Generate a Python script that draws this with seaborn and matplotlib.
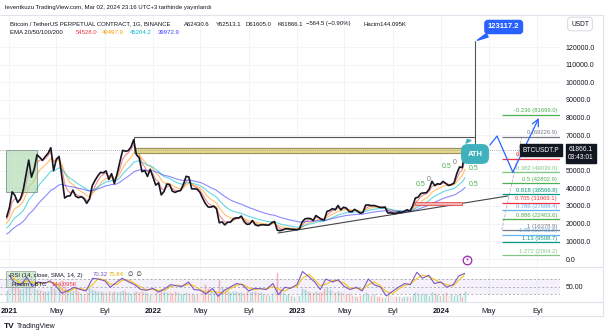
import numpy as np
import pandas as pd
import matplotlib
matplotlib.use("Agg")
import matplotlib.pyplot as plt
import matplotlib.dates as mdates
from matplotlib.patches import Rectangle
from matplotlib.lines import Line2D
import seaborn as sns

# ---------------- data ----------------
last_date = "2024-03-02"
price_close = [
    23800, 29000,
    38000, 36000, 32000, 34000, 39000, 47500, 56000, 46300, 51000, 59000, 57500, 55800, 58000,
    59800, 63000, 50000, 56500, 58000, 46500, 34500, 35600, 35800, 39000, 35500, 34700, 35300,
    34200, 31500, 34000, 41500, 44500, 47000, 49000, 48800, 49900, 45000, 48300, 42700, 48200,
    55000, 61500, 61000, 61300, 63300, 67500, 59000, 57300, 49400, 50100, 46700, 50800, 46300,
    41800, 43100, 36300, 38200, 42400, 42200, 38400, 37700, 38400, 38800, 42200, 46800, 46400,
    39700, 39700, 39500, 37700, 34300, 31300, 29400, 29400, 29900, 28400, 20500, 21000, 19300,
    20800, 20800, 22600, 23300, 23200, 24300, 21100, 19600, 19800, 21800, 19400, 18800, 19300,
    19400, 19200, 19200, 20600, 21200, 16300, 16000, 16500, 17100, 17100, 16800, 16800, 16550,
    17100, 20900, 22700, 23000, 22900, 21800, 24600, 23500, 22400, 22100, 26900, 27500, 28500,
    27900, 30300, 27800, 29300, 28800, 26900, 26750, 28100, 27100, 25900, 26300, 30500, 30600,
    30200, 30300, 29800, 29300, 29100, 29400, 26100, 26100, 25900, 25800, 26600, 26300, 27000,
    27900, 27100, 29900, 34500, 35000, 37100, 37400, 37500, 39500, 44000, 41600, 42600, 42300,
    43900, 42800, 41600, 42100, 43000, 48300, 52100, 51700, 61866.1,
]
volume_k = [
    450, 520,
    700, 650, 560, 500, 520, 600, 640, 700, 520, 480, 430, 420, 400,
    420, 600, 520, 480, 680, 820, 600, 480, 420, 430, 520, 420, 330,
    300, 380, 520, 480, 460, 420, 400, 380, 360, 420, 380, 400, 360,
    420, 460, 420, 380, 340, 380, 420, 360, 420, 380, 330, 300, 280,
    360, 320, 480, 420, 360, 380, 340, 420, 380, 300, 320, 360, 340,
    320, 300, 280, 300, 420, 680, 520, 400, 380, 380, 860, 560, 440,
    400, 380, 420, 400, 360, 380, 340, 420, 380, 400, 420, 380, 360,
    300, 280, 260, 320, 480, 1100, 520, 380, 300, 280, 260, 240, 220,
    260, 520, 480, 420, 380, 360, 420, 380, 360, 520, 560, 480, 420,
    360, 420, 380, 340, 300, 320, 260, 240, 240, 260, 280, 380, 300,
    260, 300, 240, 220, 200, 180, 300, 260, 240, 220, 240, 200, 220,
    240, 220, 300, 380, 320, 300, 320, 280, 260, 360, 320, 280, 260,
    280, 380, 260, 300, 260, 280, 320, 240, 420,
]
ema_periods = [20, 50, 100, 200]
ema_seed = [21000, 19000, 16500, 13500]
ema_header_values = ["54528.0", "49497.9", "45204.2", "39972.9"]

rsi_start = "2021-01-01"
rsi_values = [
    80, 60, 55, 75, 50, 62, 58, 65, 50, 32, 40, 48, 42, 38, 72, 70, 65, 48, 62, 72, 62, 55, 42, 40,
    45, 35, 45, 55, 52, 50, 62, 42, 40, 30, 45, 24, 40, 48, 58, 55, 38, 45, 44, 42, 58, 28, 48, 45,
    55, 90, 75, 62, 42, 70, 62, 68, 50, 42, 48, 38, 70, 55, 48, 25, 38, 48, 58, 55, 88, 72, 80, 58,
    62, 48, 55, 78, 85,
]

fib_labels = ["-0.236", "0", "0.236", "0.382", "0.5", "0.618", "0.705", "0.786", "0.886",
              "1", "1.05", "1.13", "1.272"]
fib_prices = [81699.0, 69226.9, 56754.8, 49039.0, 42802.9, 36566.8, 31969.1, 27688.4,
              22403.6, 16378.9, 13736.5, 9508.7, 2004.2]
fib_colors = ["#4caf50", "#787b86", "#f23645", "#81c784", "#4caf50", "#089981", "#f23645",
              "#64b5f6", "#4caf50", "#787b86", "#64b5f6", "#089981", "#81c784"]

green_box_dates = ["2020-12-25", "2021-03-12"]
green_box_vals = [37900, 61700]
ath_box_dates = ["2021-11-14", "2024-03-27"]
ath_box_vals = [62800, 69000]
yellow_band_vals = [60000, 62800]
target_value = 123117.2
trend_dates = ["2022-11-14", "2024-06-19"]
trend_vals = [14700, 35700]
pink_box_dates = ["2023-10-27", "2024-02-22"]
pink_box_vals = [30600, 32400]
zigzag_dates = ["2024-05-04", "2024-05-22", "2024-07-01", "2024-09-05"]
zigzag_vals = [64500, 69600, 49200, 79800]
fib_diag_dates = ["2024-06-03", "2024-07-24"]
fib_diag_vals = [16378.9, 69226.9]
mini_fib_text = ["0.5", "0", "0.5", "0", "0.5", "0.5"]
mini_fib_dates = ["2023-11-10", "2023-11-30", "2024-01-16", "2024-02-04", "2024-03-24", "2024-03-24"]
mini_fib_vals = [42450, 45200, 52100, 54600, 51500, 42450]

tick_dates = ["2021-01-01", "2021-05-01", "2021-09-01", "2022-01-01", "2022-05-01", "2022-09-01",
              "2023-01-01", "2023-05-01", "2023-09-01", "2024-01-01", "2024-05-01", "2024-09-01"]
tick_labels = ["2021", "May", "Eyl", "2022", "May", "Eyl", "2023", "May", "Eyl", "2024", "May", "Eyl"]
y_ticks = [0, 10000, 20000, 30000, 40000, 50000, 60000, 70000, 80000, 90000, 100000, 110000, 120000]
last_price = 61866.1

# ---------------- derived tables ----------------
dates = pd.date_range(end=last_date, periods=len(price_close), freq="7D")
df = pd.DataFrame({"date": dates, "close": price_close, "vol": volume_k})
for period, seed in zip(ema_periods, ema_seed):
    a = 2 / (period / 7 + 1)
    e, vals = seed, []
    for p in price_close:
        e = e + a * (p - e)
        vals.append(e)
    df[f"ema{period}"] = vals
rsi_df = pd.DataFrame({"date": pd.date_range(rsi_start, periods=len(rsi_values), freq="SMS"),
                       "rsi": rsi_values})
rsi_df["sma"] = rsi_df["rsi"].rolling(2, min_periods=1).mean()

# ---------------- layout ----------------
sns.set_theme(style="white")
plt.rcParams["font.family"] = ["Liberation Sans", "DejaVu Sans"]
TXT = "#131722"

W, H = 605, 336
fig = plt.figure(figsize=(W / 100, H / 100), dpi=100)
def fx(px): return px / W
def fy(py): return 1 - py / H
ref = pd.Timestamp("2022-01-01")
def xd(px): return mdates.date2num(ref + pd.Timedelta(days=(px - 153) * 365 / 144))
def yv(py): return (259 - py) * 120000 / 212
def dn(s): return mdates.date2num(pd.Timestamp(s))

PR = 560
ax = fig.add_axes([0, fy(266), fx(PR), (266 - 15) / H])
ax2 = fig.add_axes([0, fy(302), fx(PR), (302 - 267) / H], sharex=ax)
axv = ax2.twinx()

# price pane
ax.set_xlim(xd(0), xd(PR))
ax.set_ylim(yv(266), yv(15))
ax.set_yticks(y_ticks)
# the 60000.0 label is hidden behind the last-price tag in the reference
ax.set_yticklabels(["" if v == 60000 else f"{v:.1f}" for v in y_ticks])
ax.yaxis.tick_right()
ax.tick_params(axis="y", length=0, pad=4, labelsize=5, labelcolor=TXT)
ax.set_xticks([dn(d) for d in tick_dates])
ax.tick_params(axis="x", length=0, labelbottom=False)
ax.grid(True, color="#f0f3fa", lw=0.6)
for s in ax.spines.values():
    s.set_visible(False)

ema_cols = ["#f23645", "#ff9800", "#00bcd4", "#3d3dff"]
for period, c in zip(ema_periods, ema_cols):
    sns.lineplot(data=df, x="date", y=f"ema{period}", ax=ax, color=c, lw=0.8, alpha=0.6)
sns.lineplot(data=df, x="date", y="close", ax=ax, color=TXT, lw=1.2, zorder=5)
ax.set_xlabel(""); ax.set_ylabel("")

# drawings
gb = Rectangle((dn(green_box_dates[0]), green_box_vals[0]),
               dn(green_box_dates[1]) - dn(green_box_dates[0]), green_box_vals[1] - green_box_vals[0],
               fc="#a5d6a7", ec="#5d6b5d", lw=0.7, alpha=0.6, zorder=2)
ax.add_patch(gb)
x0, x1 = dn(ath_box_dates[0]), dn(ath_box_dates[1])
ax.add_patch(Rectangle((x0, ath_box_vals[0]), x1 - x0, ath_box_vals[1] - ath_box_vals[0],
                       fc="white", ec="#555555", lw=0.8, zorder=3))
ax.add_patch(Rectangle((x0, yellow_band_vals[0]), x1 - x0, yellow_band_vals[1] - yellow_band_vals[0],
                       fc="#e6d98c", ec="#9a9060", lw=0.8, zorder=3))
ax.plot([x1, x1], [ath_box_vals[1], target_value], color="#555555", lw=0.8, zorder=3)
ax.annotate("123117.2", xy=(x1, target_value), xytext=(xd(503.7), yv(27)),
            ha="center", va="center", fontsize=5.5, color="white", fontweight="bold",
            bbox=dict(boxstyle="round,pad=0.4", fc="#2962ff", ec="#2962ff"),
            arrowprops=dict(arrowstyle="wedge,tail_width=0.5,shrink_factor=0.5",
                            fc="#2962ff", ec="#2962ff"), zorder=8)
ax.annotate("ATH", xy=(xd(466), yv(137)), xytext=(xd(475), yv(154)),
            ha="center", va="center", fontsize=5.5, color="white", fontweight="bold",
            bbox=dict(boxstyle="round,pad=0.75", fc="#3fb1bd", ec="#3fb1bd"),
            arrowprops=dict(arrowstyle="wedge,tail_width=0.7,shrink_factor=0.5",
                            fc="#3fb1bd", ec="#3fb1bd"), zorder=8)

ax.axhline(last_price, color="#9598a1", lw=0.6, ls=(0, (1, 1.5)), zorder=4)

ax.plot([dn(d) for d in trend_dates], trend_vals, color="#444444", lw=0.8, zorder=4)
px0, px1 = dn(pink_box_dates[0]), dn(pink_box_dates[1])
ax.add_patch(Rectangle((px0, pink_box_vals[0]), px1 - px0, pink_box_vals[1] - pink_box_vals[0],
                       fc="#f7b3b3", ec="#e05050", lw=0.6, zorder=4))

zx = [dn(d) for d in zigzag_dates]
ax.plot(zx[:-1], zigzag_vals[:-1], color="#2962ff", lw=0.9, zorder=6)
ax.annotate("", xy=(zx[-1], zigzag_vals[-1]), xytext=(zx[-2], zigzag_vals[-2]),
            arrowprops=dict(arrowstyle="->", color="#2962ff", lw=0.9, shrinkA=0, shrinkB=0), zorder=6)

ax.plot([dn(d) for d in fib_diag_dates], fib_diag_vals, color="#b0b3bb", lw=0.6, ls="--", zorder=3)
ax.hlines(fib_prices, xd(502), xd(PR), colors=fib_colors, lw=0.9, zorder=4)
for lab, p, c in zip(fib_labels, fib_prices, fib_colors):
    ax.annotate(f"{lab} ({p:.1f})", xy=(xd(557), p), xytext=(0, 1), textcoords="offset points",
                ha="right", va="bottom", fontsize=4.2, color=c, zorder=5)

for t, d, v in zip(mini_fib_text, mini_fib_dates, mini_fib_vals):
    ax.text(dn(d), v, t, fontsize=5, color="#4caf50" if t == "0.5" else "#787b86",
            ha="center", va="center", zorder=6)

ax.scatter([xd(467)], [yv(260)], s=38, facecolor="white", edgecolor="#9c27b0", lw=0.9, zorder=6)
ax.text(xd(467), yv(260), "\u26a1", fontsize=5, color="#9c27b0", ha="center", va="center",
        family=["DejaVu Sans"], zorder=7)

# RSI / volume pane
axv.bar(df["date"], df["vol"], width=5,
        color=["#26a69a" if i == 0 or df["close"][i] >= df["close"][i - 1] else "#ef5350"
               for i in range(len(df))], alpha=0.5)
axv.set_ylim(0, 1300)
axv.set_yticks([])
for s in axv.spines.values():
    s.set_visible(False)
ax2.set_zorder(axv.get_zorder() + 1)
ax2.patch.set_visible(False)

ax2.axhspan(30, 70, color="#7e57c2", alpha=0.08, lw=0)
for lv in (30, 50, 70):
    ax2.axhline(lv, color="#9598a1", lw=0.5, ls=(0, (3, 3)))
sns.lineplot(data=rsi_df, x="date", y="sma", ax=ax2, color="#f5c518", lw=0.8)
sns.lineplot(data=rsi_df, x="date", y="rsi", ax=ax2, color="#7e57c2", lw=0.8)
ax2.set_xlabel(""); ax2.set_ylabel("")
ax2.set_ylim(8.7, 102)
ax2.yaxis.tick_right()
ax2.set_yticks([50])
ax2.set_yticklabels(["50.00"])
ax2.tick_params(axis="y", length=0, pad=4, labelsize=5, labelcolor=TXT)
ax2.set_xticks([dn(d) for d in tick_dates])
ax2.set_xticklabels(tick_labels)
for lbl in ax2.get_xticklabels():
    if lbl.get_text().isdigit():
        lbl.set_fontweight("bold")
ax2.tick_params(axis="x", length=0, pad=4, labelsize=5.5, labelcolor=TXT)
ax2.grid(True, axis="x", color="#f0f3fa", lw=0.6)
for s in ax2.spines.values():
    s.set_visible(False)
ax.set_xlim(xd(0), xd(PR))

# frame lines
for (xa, ya, xb, yb) in [(0, 15, 603, 15), (0, 266.5, 603, 266.5), (0, 302, 603, 302),
                         (0, 316, 603, 316), (603, 15, 603, 316)]:
    fig.add_artist(Line2D([fx(xa), fx(xb)], [fy(ya), fy(yb)], color="#e0e3eb", lw=0.8))

# header texts
fig.text(fx(5), fy(7), "leventkuzu TradingView.com, Mar 02, 2024 23:16 UTC+3 tarihinde yayınlandı",
         fontsize=4.3, color=TXT, va="center")
for x, t in [(10, "Bitcoin / TetherUS PERPETUAL CONTRACT, 1G, BINANCE"), (184, "A62430.6"),
             (216, "Y62513.1"), (246, "D61605.0"), (278, "K61866.1"),
             (306, "\u2212564.5 (\u22120.90%)"), (363, "Hacim144.095K")]:
    fig.text(fx(x), fy(24), t, fontsize=4.3, color=TXT, va="center")
fig.text(fx(10), fy(33), "EMA 20/50/100/200", fontsize=4.3, color=TXT, va="center")
for x, t, c in zip([76, 102, 130, 158], ema_header_values,
                   ["#f23645", "#ff9800", "#00bcd4", "#3d3dff"]):
    fig.text(fx(x), fy(33), t, fontsize=4.3, color=c, va="center")

fig.text(fx(580), fy(24), "USDT", fontsize=4.8, color=TXT, ha="center", va="center",
         bbox=dict(boxstyle="round,pad=0.5", fc="white", ec="#d1d4dc", lw=0.6))
fig.text(fx(541), fy(150), "BTCUSDT.P", fontsize=4.8, color="white", ha="center", va="center",
         bbox=dict(boxstyle="square,pad=0.35", fc="#131722", ec="#131722"))
fig.text(fx(581), fy(153.5), "61866.1\n03:43:01", fontsize=4.8, color="white", ha="center",
         va="center", linespacing=1.25,
         bbox=dict(boxstyle="square,pad=0.35", fc="#131722", ec="#131722"))

# RSI pane legends
fig.add_artist(Rectangle((fx(6), fy(287)), fx(29), 16 / H, transform=fig.transFigure,
                         fc="#c8e6c9", ec="#8a9a8a", lw=0.6, alpha=0.8))
fig.text(fx(10), fy(275), "RSI (14, close, SMA, 14, 2)", fontsize=4.3, color=TXT, va="center")
fig.text(fx(93), fy(275), "70.32", fontsize=4.3, color="#7e57c2", va="center")
fig.text(fx(109), fy(275), "75.84", fontsize=4.3, color="#e0b000", va="center")
fig.text(fx(128), fy(275), "\u2205  \u2205", fontsize=4.3, color=TXT, va="center")
fig.text(fx(12), fy(284), "Hacim \u2022 BTC", fontsize=4.3, color=TXT, va="center")
fig.text(fx(52), fy(284), "144.095K", fontsize=4.3, color="#f23645", va="center")

# logo
fig.text(fx(4), fy(326), "TV", fontsize=6, fontweight="heavy", color=TXT, va="center")
fig.text(fx(17), fy(326), "TradingView", fontsize=5, color=TXT, va="center")

fig.savefig("out.png", dpi=100)
